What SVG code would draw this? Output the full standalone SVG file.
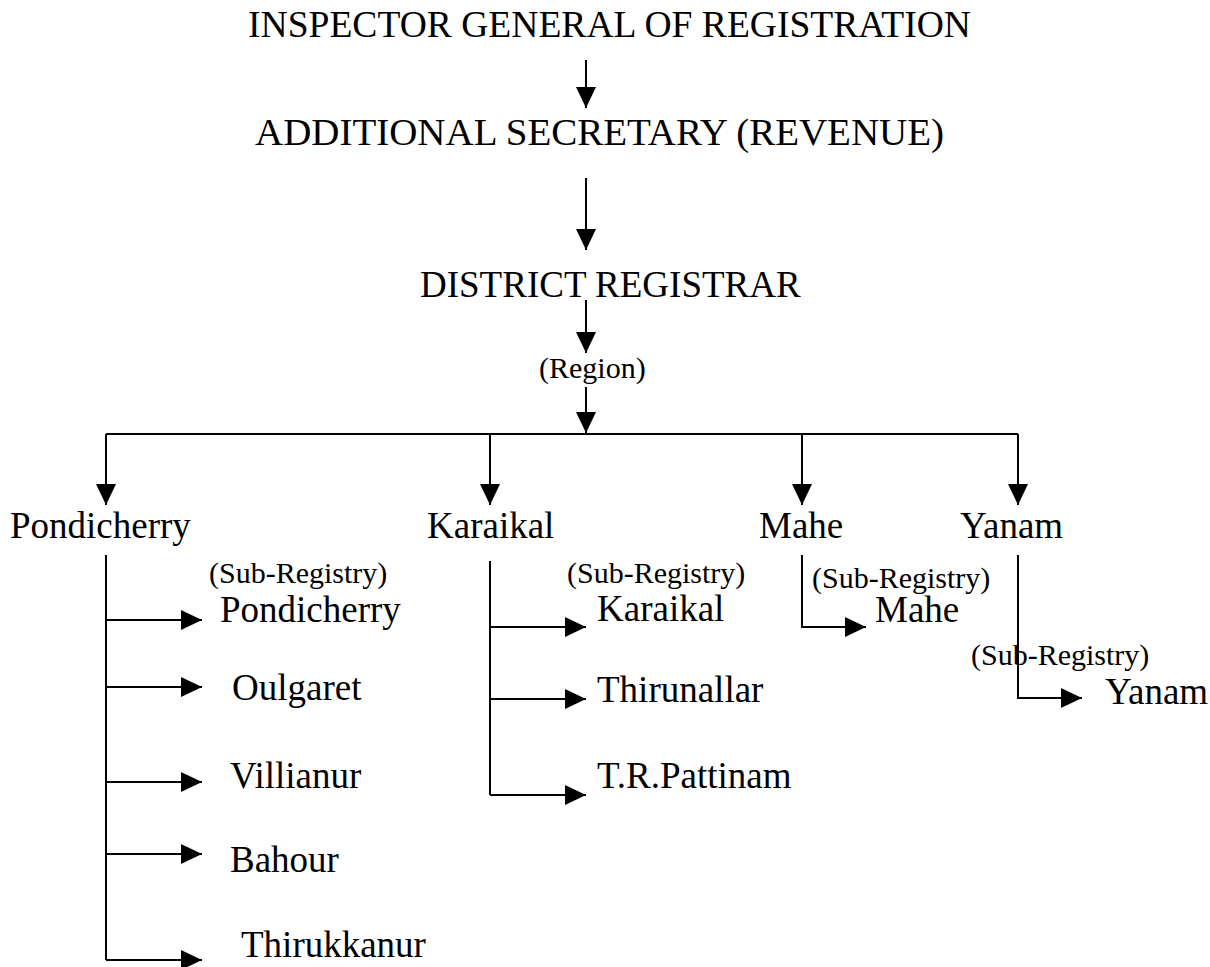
<svg xmlns="http://www.w3.org/2000/svg" width="1210" height="967" viewBox="0 0 1210 967">
<style>
.t{font-family:"Liberation Serif","Times New Roman",serif;font-size:37px;fill:#000}
.s{font-family:"Liberation Serif","Times New Roman",serif;font-size:30px;fill:#000}
.c line,.c polyline{stroke:#000;stroke-width:2;fill:none}
</style>
<defs>
<marker id="ah" markerUnits="userSpaceOnUse" markerWidth="21" markerHeight="21" refX="21" refY="10" orient="auto" viewBox="0 0 21 21">
<path d="M0,0 L21,10 L0,20 Z" fill="#000"/>
</marker>
</defs>
<rect width="1210" height="967" fill="#fff"/>
<g class="c" id="connectors">
<line x1="586" y1="60" x2="586" y2="108" marker-end="url(#ah)"/>
<line x1="586" y1="178" x2="586" y2="250" marker-end="url(#ah)"/>
<line x1="586" y1="300" x2="586" y2="353" marker-end="url(#ah)"/>
<line x1="586" y1="387" x2="586" y2="433" marker-end="url(#ah)"/>
<line x1="106" y1="434" x2="1018" y2="434"/>
<line x1="106" y1="434" x2="106" y2="505" marker-end="url(#ah)"/>
<line x1="490" y1="434" x2="490" y2="505" marker-end="url(#ah)"/>
<line x1="802" y1="434" x2="802" y2="505" marker-end="url(#ah)"/>
<line x1="1018" y1="434" x2="1018" y2="505" marker-end="url(#ah)"/>
<line x1="106" y1="555" x2="106" y2="960"/>
<line x1="106" y1="620" x2="202" y2="620" marker-end="url(#ah)"/>
<line x1="106" y1="687" x2="202" y2="687" marker-end="url(#ah)"/>
<line x1="106" y1="782" x2="202" y2="782" marker-end="url(#ah)"/>
<line x1="106" y1="854" x2="202" y2="854" marker-end="url(#ah)"/>
<line x1="106" y1="960" x2="202" y2="960" marker-end="url(#ah)"/>
<line x1="490" y1="561" x2="490" y2="795"/>
<line x1="490" y1="627" x2="586" y2="627" marker-end="url(#ah)"/>
<line x1="490" y1="699" x2="586" y2="699" marker-end="url(#ah)"/>
<line x1="490" y1="795" x2="586" y2="795" marker-end="url(#ah)"/>
<polyline points="802,555 802,627 866,627" marker-end="url(#ah)"/>
<polyline points="1018,555 1018,698 1082,698" marker-end="url(#ah)"/>
</g>
<g id="n-ig"><text class="t" x="248" y="37" textLength="723" lengthAdjust="spacingAndGlyphs">INSPECTOR GENERAL OF REGISTRATION</text></g>
<g id="n-as"><text class="t" x="255" y="145" textLength="689" lengthAdjust="spacingAndGlyphs">ADDITIONAL SECRETARY (REVENUE)</text></g>
<g id="n-dr"><text class="t" x="420" y="297">DISTRICT REGISTRAR</text></g>
<g id="n-region"><text class="s" x="539" y="378">(Region)</text></g>
<g id="n-pondicherry"><text class="t" x="10" y="538">Pondicherry</text></g>
<g id="n-karaikal"><text class="t" x="427" y="538">Karaikal</text></g>
<g id="n-mahe"><text class="t" x="759" y="538">Mahe</text></g>
<g id="n-yanam"><text class="t" x="960" y="538">Yanam</text></g>
<g id="n-p-sub"><text class="s" x="209" y="583">(Sub-Registry)</text><text class="t" x="220" y="622">Pondicherry</text></g>
<g id="n-oulgaret"><text class="t" x="232" y="700">Oulgaret</text></g>
<g id="n-villianur"><text class="t" x="230" y="788">Villianur</text></g>
<g id="n-bahour"><text class="t" x="230" y="872">Bahour</text></g>
<g id="n-thirukkanur"><text class="t" x="241" y="957">Thirukkanur</text></g>
<g id="n-k-sub"><text class="s" x="567" y="583">(Sub-Registry)</text><text class="t" x="597" y="621">Karaikal</text></g>
<g id="n-thirunallar"><text class="t" x="597" y="702">Thirunallar</text></g>
<g id="n-trp"><text class="t" x="597" y="788">T.R.Pattinam</text></g>
<g id="n-m-sub"><text class="s" x="812" y="588">(Sub-Registry)</text><text class="t" x="875" y="622">Mahe</text></g>
<g id="n-y-sub"><text class="s" x="971" y="665">(Sub-Registry)</text><text class="t" x="1105" y="704">Yanam</text></g>
</svg>
